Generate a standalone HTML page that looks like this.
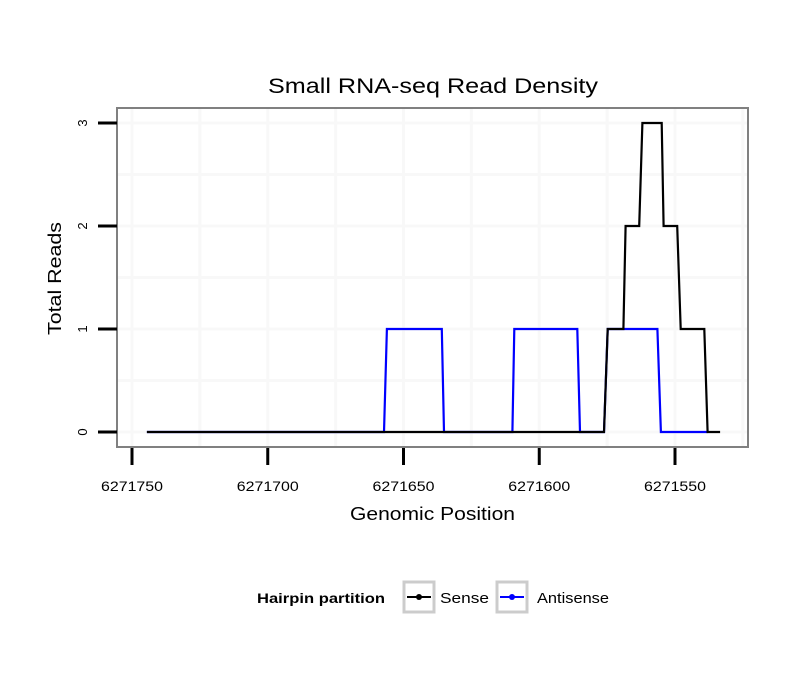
<!DOCTYPE html>
<html><head><meta charset="utf-8"><style>
body{margin:0;background:#fff;font-family:"Liberation Sans",sans-serif}
</style></head><body>
<svg id="chart" width="810" height="690" xmlns="http://www.w3.org/2000/svg" font-family="Liberation Sans, sans-serif">
<rect width="810" height="690" fill="#fff"/>
<text x="268" y="93" font-size="21" textLength="330" lengthAdjust="spacingAndGlyphs">Small RNA-seq Read Density</text>
<g id="grid"></g>
<g id="series"></g>
<rect x="117" y="108" width="631" height="339" fill="none" stroke="#808080" stroke-width="2"/>
<g id="axes"></g>
<text x="350" y="520" font-size="18" textLength="165" lengthAdjust="spacingAndGlyphs">Genomic Position</text>
<text transform="translate(61,335) rotate(-90)" font-size="18" textLength="113" lengthAdjust="spacingAndGlyphs">Total Reads</text>
<g>
<text x="257" y="603" font-size="14" font-weight="bold" textLength="128" lengthAdjust="spacingAndGlyphs">Hairpin partition</text>
<g>
<rect x="404" y="582" width="30" height="30" fill="#fff" stroke="#ccc" stroke-width="3"/>
<line x1="407" y1="597" x2="431" y2="597" stroke="#000" stroke-width="2"/><circle cx="419" cy="597" r="3" fill="#000"/>
<text x="440" y="603" font-size="15" textLength="49" lengthAdjust="spacingAndGlyphs">Sense</text></g>
<g>
<rect x="497" y="582" width="30" height="30" fill="#fff" stroke="#ccc" stroke-width="3"/>
<line x1="500" y1="597" x2="524" y2="597" stroke="#00f" stroke-width="2"/><circle cx="512" cy="597" r="3" fill="#00f"/>
<text x="537" y="603" font-size="15" textLength="72" lengthAdjust="spacingAndGlyphs">Antisense</text></g>
</g>
</svg>
<script>
const xTicks=[6271750,6271700,6271650,6271600,6271550];
const yTicks=[0,1,2,3];
const senseX=[6271744.5,6271576.15,6271574.8,6271569.0,6271568.2,6271563.2,6271562.0,6271554.9,6271554.2,6271549.2,6271547.9,6271539.2,6271538.0,6271533.4];
const senseY=[0,0,1,1,2,2,3,3,2,2,1,1,0,0];
const antiX=[6271744.5,6271657.2,6271656.1,6271635.9,6271635.1,6271609.9,6271609.2,6271586.0,6271585.0,6271576.15,6271574.8,6271556.5,6271555.2,6271538.0];
const antiY=[0,0,1,1,0,0,1,1,0,0,1,1,0,0];
const NS="http://www.w3.org/2000/svg";
function sx(v){return 132+(6271750-v)*2.715;}
function sy(v){return 432-v*103;}
function mk(t,a,p){const e=document.createElementNS(NS,t);for(const k in a)e.setAttribute(k,a[k]);p.appendChild(e);return e;}
const grid=document.getElementById('grid'),axes=document.getElementById('axes'),ser=document.getElementById('series');
for(let i=0;i<xTicks.length;i++){
 const xs=[sx(xTicks[i]),sx(xTicks[i]-25)];
 xs.forEach(x=>{if(x>118&&x<747){const l=mk('line',{x1:x,x2:x,y1:109,y2:446,stroke:'#f8f8f8','stroke-width':3},grid);
 
 }});
}
for(let i=0;i<yTicks.length;i++){
 [yTicks[i],yTicks[i]+0.5].forEach(v=>{const y=sy(v);if(y>109&&y<446){const l=mk('line',{x1:118,x2:747,y1:y,y2:y,stroke:'#f8f8f8','stroke-width':3},grid);
 
 }});
}
xTicks.forEach(v=>{const x=sx(v);
 const t=mk('line',{x1:x,x2:x,y1:448,y2:465,stroke:'#000','stroke-width':3},axes);
 
 
 const tx=mk('text',{x:x-31,y:491,'font-size':14,textLength:62,lengthAdjust:'spacingAndGlyphs'},axes);tx.textContent=v;
 
 
});
yTicks.forEach(v=>{const y=sy(v);
 const t=mk('line',{x1:98,x2:117,y1:y,y2:y,stroke:'#000','stroke-width':3},axes);
 
 
 const tx=mk('text',{transform:`translate(87,${y}) rotate(-90)`,'font-size':13,'text-anchor':'middle'},axes);tx.textContent=v;
 
 
});
function line(xsA,ysA,col,name){
 const d=xsA.map((v,i)=>(i?'L':'M')+sx(v).toFixed(1)+','+sy(ysA[i]).toFixed(1)).join('');
 const p=mk('path',{d:d,fill:'none',stroke:col,'stroke-width':2.2},ser);
 
 
}
line(antiX,antiY,'#0000ff','antisense-line');
line(senseX,senseY,'#000000','sense-line');
</script>
</body></html>
